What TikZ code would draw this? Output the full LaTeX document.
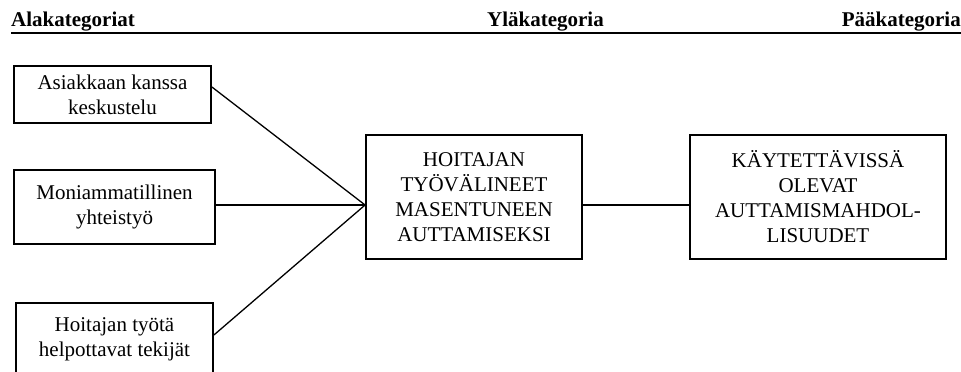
\documentclass[tikz,border=0pt]{standalone}
\usepackage{fontspec}
\setmainfont{Liberation Serif}
\begin{document}
\begin{tikzpicture}[x=1pt,y=-1pt,
  catbox/.style={draw=black,line width=1.8pt,inner sep=0pt,align=center,
    font=\fontsize{21}{25}\selectfont},
  conn/.style={draw=black,line width=1.3pt},
  head/.style={inner sep=0pt,font=\fontsize{21}{25}\selectfont\bfseries}]
\useasboundingbox (0,0) rectangle (961,372);
% headers
\node[head,anchor=base west] (h1) at (11,27) {Alakategoriat};
\node[head,anchor=base east] (h2) at (604,27) {Yläkategoria};
\node[head,anchor=base east] (h3) at (961,27) {Pääkategoria};
\coordinate (ul1) at (11,32.5);
\coordinate (ul2) at (962,32.5);
\draw[line width=2pt] (ul1) -- (ul2);
% boxes
\node[catbox,minimum width=197pt,minimum height=57pt] (b1) at (112.5,94.5)
  {Asiakkaan kanssa\\keskustelu};
\node[catbox,minimum width=201pt,minimum height=74pt] (b2) at (114.5,207)
  {Moniammatillinen\\yhteistyö};
\node[catbox,minimum width=197pt,anchor=north,inner ysep=15pt] (b3) at (114.5,302)
  {Hoitajan työtä\\helpottavat tekijät};
\node[catbox,minimum width=216pt,minimum height=124pt] (c) at (474,197)
  {HOITAJAN\\TYÖVÄLINEET\\MASENTUNEEN\\AUTTAMISEKSI};
\node[catbox,minimum width=256pt,minimum height=124pt] (r) at (818,197)
  {KÄYTETTÄVISSÄ\\OLEVAT\\AUTTAMISMAHDOL-\\LISUUDET};
% connectors
\draw[conn] ([yshift=7.5pt]b1.east) -- ([yshift=-8pt]c.west);
\draw[conn] ([yshift=2pt]b2.east) -- ([yshift=-8pt]c.west);
\draw[conn] ([yshift=-33pt]b3.north east) -- ([yshift=-8pt]c.west);
\draw[conn] ([yshift=-8pt]c.east) -- ([yshift=-8pt]r.west);
\end{tikzpicture}
\end{document}
